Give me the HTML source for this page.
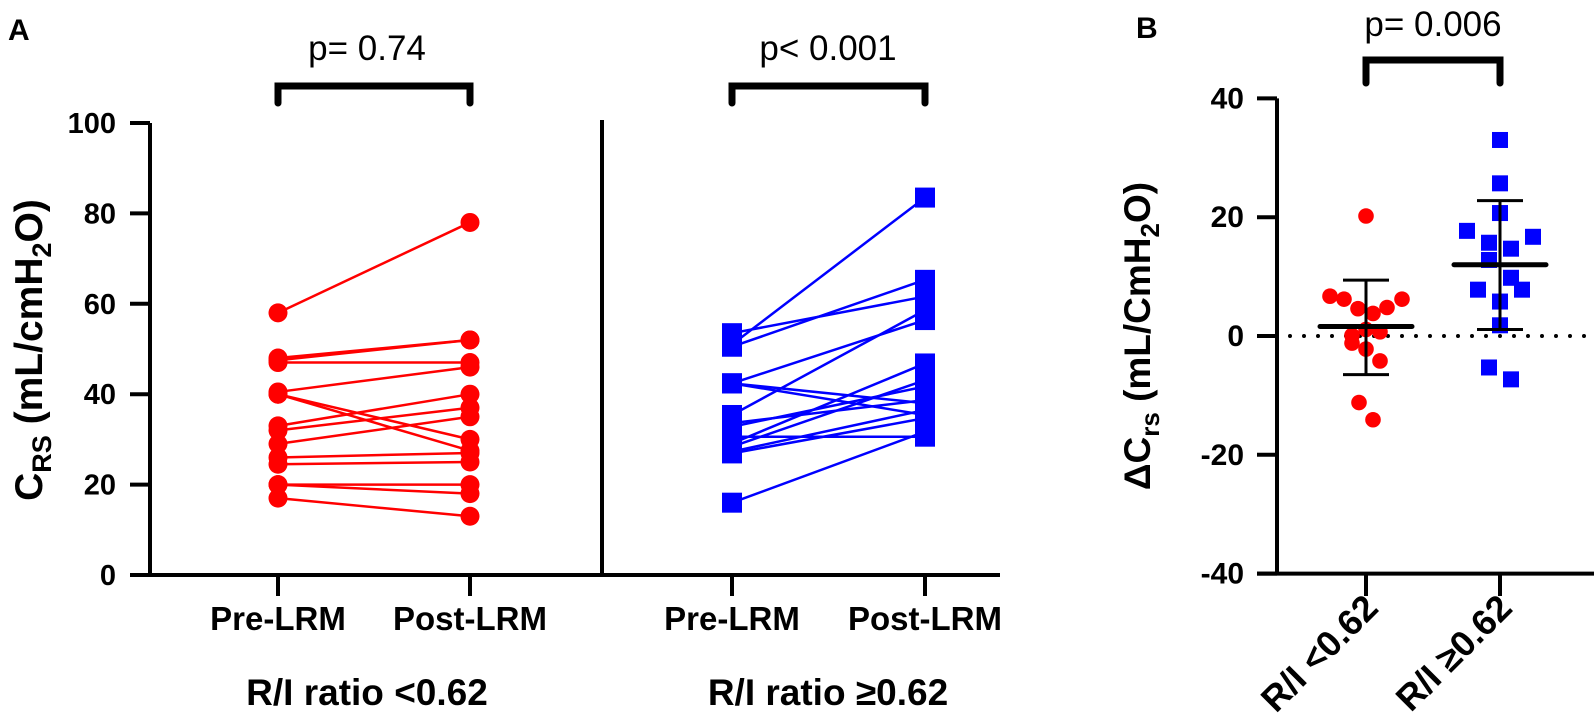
<!DOCTYPE html>
<html><head><meta charset="utf-8"><style>
html,body{margin:0;padding:0;background:#fff}
svg{display:block;font-family:"Liberation Sans",Arial,sans-serif}
</style></head><body>
<svg id="fig" width="1595" height="728" viewBox="0 0 1595 728" xmlns="http://www.w3.org/2000/svg">
<g id="panelA"></g>
<g id="panelB"></g>
</svg>
<script>
// Panel A data
const redPre  = [58, 48, 47.5, 47, 40.5, 40, 40, 33, 32, 29, 26, 24.5, 20, 20, 17];
const redPost = [78, 52, 52, 47, 46, 30, 27.5, 40, 37, 35, 27, 25, 20, 18, 13];
const bluePre  = [53.5, 51, 50.5, 42.4, 42.4, 42.4, 35.4, 33.6, 32.8, 29.1, 28.4, 27.3, 26.9, 30.6, 16];
const bluePost = [61.6, 83.5, 65.3, 56.4, 38, 35.4, 58.6, 38.7, 41.7, 46.8, 43.1, 36.5, 34.7, 30.6, 31.7];
const aTicks = [0, 20, 40, 60, 80, 100];
const aCats = ["Pre-LRM", "Post-LRM"];
// Panel B data
const deltaRed  = [20.2, 6.7, 6.2, 4.6, 3.8, 4.8, 6.2, 1.1, 0.7, 0.1, -1.2, -2.2, -4.2, -11.2, -14.1];
const deltaBlue = [33.0, 25.7, 20.7, 17.7, 16.7, 15.7, 14.7, 12.8, 9.8, 7.8, 7.8, 5.8, 1.8, -5.3, -7.3];
const redMeanSD  = [1.6, 9.4, -6.5];
const blueMeanSD = [12.0, 22.8, 1.1];
const bTicks = [-40, -20, 0, 20, 40];
const bCats = ["R/I <0.62", "R/I \u22650.62"];
const jitterRed  = [0, -36, -22, -8, 7, 21, 36, 0, 14, -14, -14, 0, 14, -7, 7];
const jitterBlue = [0, 0, 0, -33, 33, -11, 11, -11, 11, -22, 22, 0, 0, -11, 11];

const NS = "http://www.w3.org/2000/svg";
function mk(parent, tag, attrs, text){
  const e = document.createElementNS(NS, tag);
  for (const k in attrs) e.setAttribute(k, attrs[k]);
  if (text !== undefined) e.textContent = text;
  parent.appendChild(e);
  return e;
}
const A = document.getElementById('panelA');
const B = document.getElementById('panelB');

// ---- Panel A
const yA = v => 575 - v * 4.52;
const xRedPre = 278, xRedPost = 470, xBluePre = 732, xBluePost = 925;

let t = mk(A, 'text', {x: 8, y: 40, 'font-size': 30, 'font-weight': 'bold'}, 'A');
 

let ax = mk(A, 'path', {d: `M150 ${yA(100)} V575 M130 575 H1000 M602 120 V575`, stroke: '#000', 'stroke-width': 4, fill: 'none'});
 

aTicks.forEach(v => {
  const tk = mk(A, 'line', {x1: 130, x2: 150, y1: yA(v), y2: yA(v), stroke: '#000', 'stroke-width': 4});
   
  const lb = mk(A, 'text', {x: 116, y: yA(v) + 10, 'font-size': 29, 'font-weight': 'bold', 'text-anchor': 'end'}, String(v));
   
});
[[xRedPre, xRedPost, 367, 'R/I ratio <0.62', 'p= 0.74'], [xBluePre, xBluePost, 828, 'R/I ratio \u22650.62', 'p< 0.001']].forEach(g => {
  [g[0], g[1]].forEach((x, i) => {
    const tk = mk(A, 'line', {x1: x, x2: x, y1: 575, y2: 596, stroke: '#000', 'stroke-width': 4});
     
    const lb = mk(A, 'text', {x: x, y: 630, 'font-size': 33, 'font-weight': 'bold', 'text-anchor': 'middle'}, aCats[i]);
     
  });
  const gl = mk(A, 'text', {x: g[2], y: 705, 'font-size': 37, 'font-weight': 'bold', 'text-anchor': 'middle'}, g[3]);
   
  const br = mk(A, 'path', {d: `M${g[0]} 103 V86 H${g[1]} V103`, stroke: '#000', 'stroke-width': 7, fill: 'none', 'stroke-linecap': 'round'});
   
  const pl = mk(A, 'text', {x: g[2], y: 60, 'font-size': 35, 'text-anchor': 'middle'}, g[4]);
   
});
let yt = mk(A, 'text', {transform: 'translate(42 350) rotate(-90)', 'font-size': 39, 'font-weight': 'bold', 'text-anchor': 'middle'});
 
yt.innerHTML = 'C<tspan font-size="27" dy="9">RS</tspan><tspan dy="-9"> (mL/cmH</tspan><tspan font-size="27" dy="9">2</tspan><tspan dy="-9">O)</tspan>';

redPre.forEach((v, i) => {
  const l = mk(A, 'line', {x1: xRedPre, y1: yA(v), x2: xRedPost, y2: yA(redPost[i]), stroke: '#f00', 'stroke-width': 2.5});
   
});
redPre.forEach((v, i) => {
  const c1 = mk(A, 'circle', {cx: xRedPre, cy: yA(v), r: 9.5, fill: '#f00'});
   
  const c2 = mk(A, 'circle', {cx: xRedPost, cy: yA(redPost[i]), r: 9.5, fill: '#f00'});
   
});
bluePre.forEach((v, i) => {
  const l = mk(A, 'line', {x1: xBluePre, y1: yA(v), x2: xBluePost, y2: yA(bluePost[i]), stroke: '#00f', 'stroke-width': 2.5});
   
});
bluePre.forEach((v, i) => {
  const s1 = mk(A, 'rect', {x: xBluePre - 10, y: yA(v) - 10, width: 20, height: 20, fill: '#00f'});
   
  const s2 = mk(A, 'rect', {x: xBluePost - 10, y: yA(bluePost[i]) - 10, width: 20, height: 20, fill: '#00f'});
   
});

// ---- Panel B
const yB = v => 336 - v * 5.94;
const xR = 1366, xBl = 1500, axX = 1277;
t = mk(B, 'text', {x: 1136, y: 38, 'font-size': 30, 'font-weight': 'bold'}, 'B');
 
ax = mk(B, 'path', {d: `M${axX} ${yB(40)} V${yB(-40)} M${axX - 20} ${yB(-40)} H1594`, stroke: '#000', 'stroke-width': 4, fill: 'none'});
 
bTicks.forEach(v => {
  const tk = mk(B, 'line', {x1: axX - 20, x2: axX, y1: yB(v), y2: yB(v), stroke: '#000', 'stroke-width': 4});
   
  const lb = mk(B, 'text', {x: axX - 33, y: yB(v) + 10, 'font-size': 30, 'font-weight': 'bold', 'text-anchor': 'end'}, String(v));
   
});
const zl = mk(B, 'line', {x1: 1290, x2: 1592, y1: yB(0), y2: yB(0), stroke: '#000', 'stroke-width': 4, 'stroke-dasharray': '0 14', 'stroke-linecap': 'round'});
 
[xR, xBl].forEach((x, i) => {
  const tk = mk(B, 'line', {x1: x, x2: x, y1: yB(-40), y2: 596, stroke: '#000', 'stroke-width': 4});
   
  const lb = mk(B, 'text', {transform: `translate(${x + 14} 610) rotate(-45)`, 'font-size': 36, 'font-weight': 'bold', 'text-anchor': 'end'}, bCats[i]);
   
});
let br = mk(B, 'path', {d: `M${xR} 83 V60 H${xBl} V83`, stroke: '#000', 'stroke-width': 7, fill: 'none', 'stroke-linecap': 'round'});
 
let pl = mk(B, 'text', {x: (xR + xBl) / 2, y: 36, 'font-size': 35, 'text-anchor': 'middle'}, 'p= 0.006');
 
yt = mk(B, 'text', {transform: 'translate(1150 336) rotate(-90)', 'font-size': 37, 'font-weight': 'bold', 'text-anchor': 'middle'});
 
yt.innerHTML = '\u0394C<tspan font-size="26" dy="9">rs</tspan><tspan dy="-9"> (mL/CmH</tspan><tspan font-size="26" dy="9">2</tspan><tspan dy="-9">O)</tspan>';

deltaRed.forEach((v, i) => {
  const c = mk(B, 'circle', {cx: xR + jitterRed[i], cy: yB(v), r: 7.8, fill: '#f00'});
   
});
deltaBlue.forEach((v, i) => {
  const s = mk(B, 'rect', {x: xBl + jitterBlue[i] - 8, y: yB(v) - 8, width: 16, height: 16, fill: '#00f'});
   
});
[[xR, redMeanSD], [xBl, blueMeanSD]].forEach(g => {
  const x = g[0], m = g[1];
  const eb = mk(B, 'path', {d: `M${x} ${yB(m[1])} V${yB(m[2])} M${x - 23} ${yB(m[1])} H${x + 23} M${x - 23} ${yB(m[2])} H${x + 23}`, stroke: '#000', 'stroke-width': 3, fill: 'none'});
   
  const ml = mk(B, 'line', {x1: x - 46, x2: x + 46, y1: yB(m[0]), y2: yB(m[0]), stroke: '#000', 'stroke-width': 5, 'stroke-linecap': 'round'});
   
});
</script>
</body></html>
